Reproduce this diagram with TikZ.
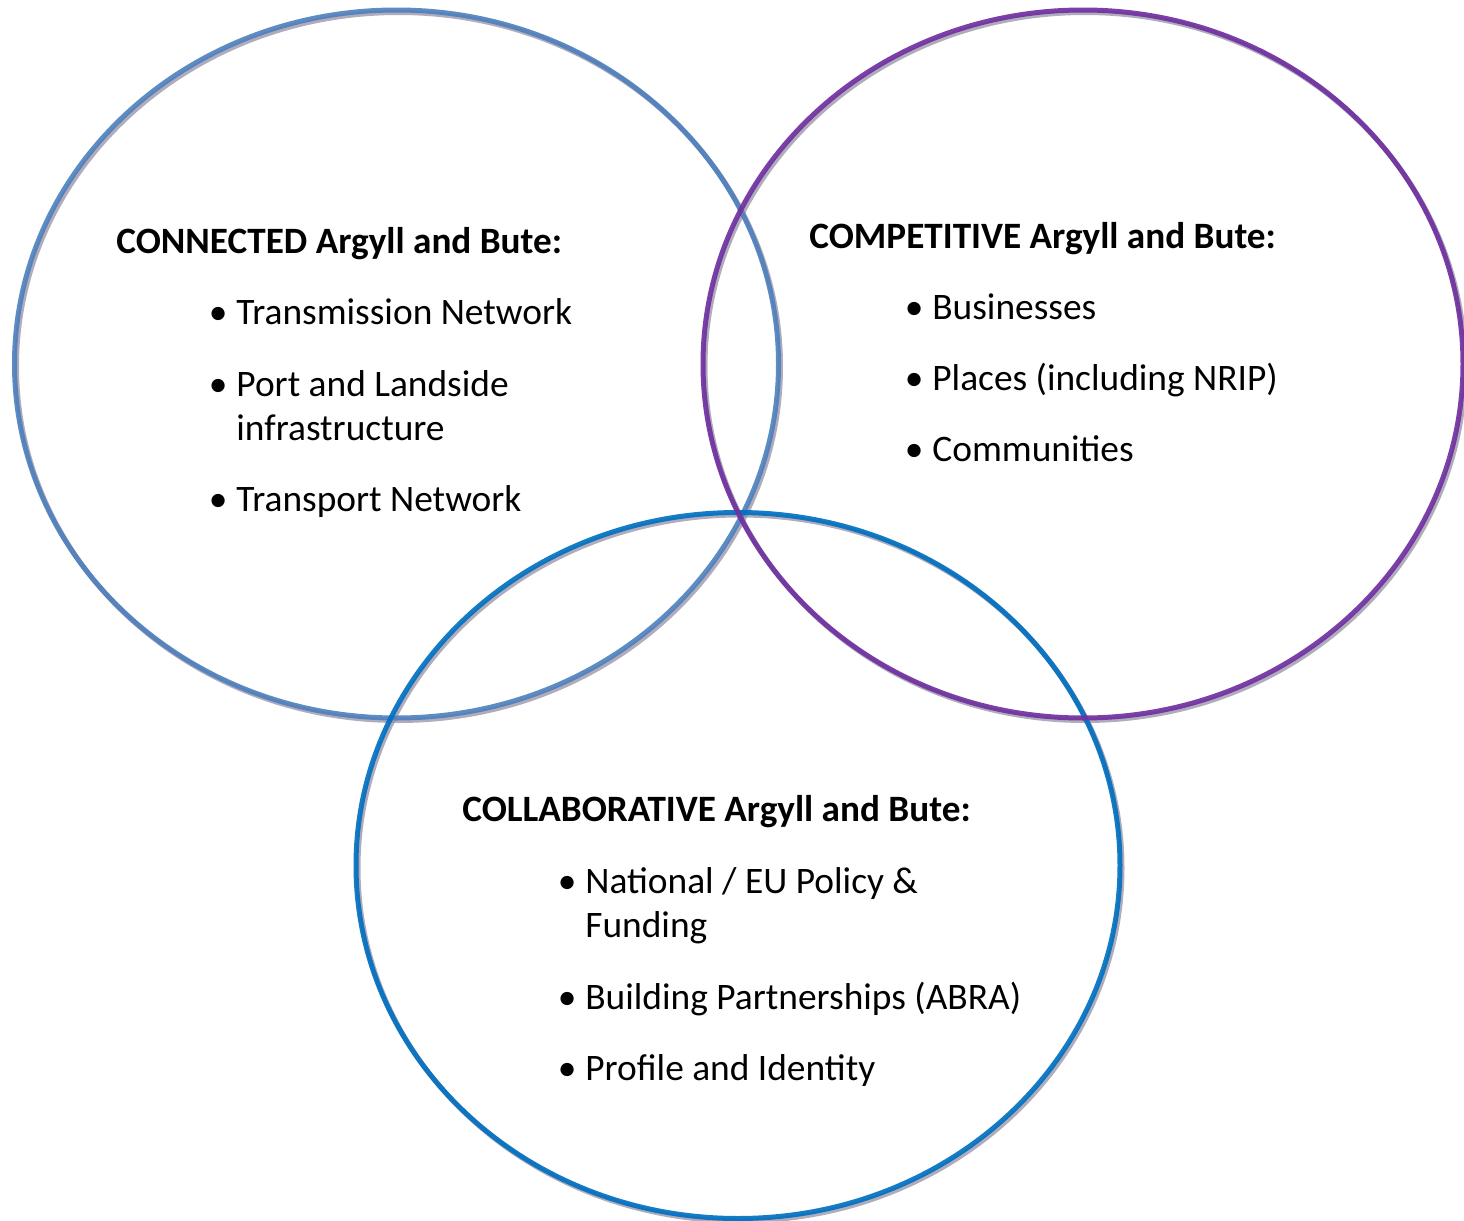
\documentclass[tikz,border=0pt]{standalone}
\usepackage{fontspec}
\setmainfont{Carlito}
\usetikzlibrary{positioning}

\definecolor{connblue}{RGB}{79,129,189}
\definecolor{comppurple}{RGB}{112,48,160}
\definecolor{collblue}{RGB}{0,112,192}
\definecolor{ringshade}{RGB}{150,144,166}

\newcommand{\bitem}[1]{\llap{\textbullet\hspace{4.5pt}}#1}

\begin{document}
\begin{tikzpicture}[x=0.5pt, y=-0.5pt]

    % Styles
    \tikzstyle{ring} = [line width=2.5pt, draw opacity=0.92]
    \tikzstyle{ringshadow} = [line width=2.5pt, draw=ringshade, draw opacity=0.75]
    \tikzstyle{heading} = [anchor=base west, inner sep=0pt, font=\fontsize{18.6pt}{22pt}\selectfont\bfseries]
    \tikzstyle{item} = [anchor=base west, inner sep=0pt, align=left, font=\fontsize{18.7pt}{22pt}\selectfont]

    \useasboundingbox (0,0) rectangle (1464,1221);

    % Cercles
    \draw [ringshadow] (398.5,366.5) ellipse [x radius=382, y radius=354];
    \draw [ringshadow] (740,868) ellipse [x radius=382, y radius=353];
    \draw [ringshadow] (1085,366.5) ellipse [x radius=380, y radius=354];
    \draw [ring, draw=connblue] (396.5,364) ellipse [x radius=382, y radius=354];
    \draw [ring, draw=collblue] (738,865.5) ellipse [x radius=382, y radius=353];
    \draw [ring, draw=comppurple] (1083,364) ellipse [x radius=380, y radius=354];

    % Noeuds
    \node (connected) [heading] at (116,253) {CONNECTED Argyll and Bute:};
    \node (conn-trans) [below=35.5pt of connected.base west, xshift=60pt, item] {\bitem{Transmission Network}};
    \node (conn-port) [below=58pt of conn-trans.base west, item] {\bitem{Port and Landside}\\infrastructure};
    \node (conn-road) [below=35.5pt of conn-port.base west, item] {\bitem{Transport Network}};

    \node (competitive) [heading] at (809,248) {COMPETITIVE Argyll and Bute:};
    \node (comp-biz) [below=35.5pt of competitive.base west, xshift=61.5pt, item] {\bitem{Businesses}};
    \node (comp-place) [below=35.5pt of comp-biz.base west, item] {\bitem{Places (including NRIP)}};
    \node (comp-comm) [below=35.5pt of comp-place.base west, item] {\bitem{Communities}};

    \node (collaborative) [heading] at (462,821) {COLLABORATIVE Argyll and Bute:};
    \node (coll-policy) [below=58pt of collaborative.base west, xshift=61.5pt, item] {\bitem{National / EU Policy \&}\\Funding};
    \node (coll-part) [below=36pt of coll-policy.base west, item] {\bitem{Building Partnerships (ABRA)}};
    \node (coll-id) [below=35.5pt of coll-part.base west, item] {\bitem{Profile and Identity}};

\end{tikzpicture}
\end{document}
